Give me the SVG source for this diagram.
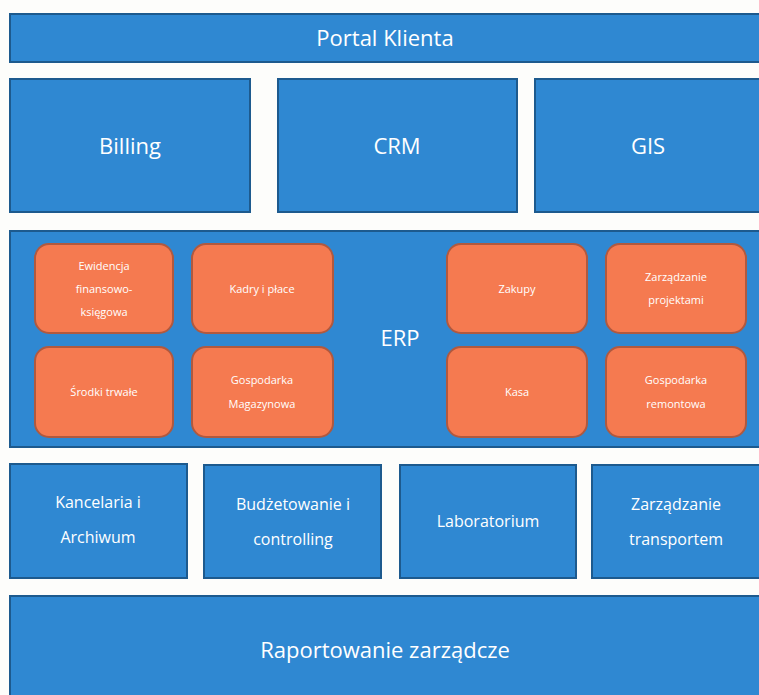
<svg xmlns="http://www.w3.org/2000/svg" width="759" height="695" viewBox="0 0 759 695">
<style>
.b{fill:#2f88d2;stroke:#1d5a8e;stroke-width:2}
.o{fill:#f57a50;stroke:#b0593f;stroke-width:2}
text{font-family:"Open Sans","Liberation Sans",sans-serif;fill:#ffffff;text-anchor:middle}
.t1{font-size:22px}
.t2{font-size:16px}
.t3{font-size:11px}
</style>
<rect width="759" height="695" fill="#fdfdfb"/>
<g id="portal"><rect class="b" x="10" y="14" width="752" height="48"/><text class="t1" x="385" y="46">Portal Klienta</text></g>
<g id="billing"><rect class="b" x="10" y="79" width="240" height="133"/><text class="t1" x="130" y="154">Billing</text></g>
<g id="crm"><rect class="b" x="278" y="79" width="239" height="133"/><text class="t1" x="397" y="154">CRM</text></g>
<g id="gis"><rect class="b" x="535" y="79" width="227" height="133"/><text class="t1" x="648" y="154">GIS</text></g>
<g id="erp"><rect class="b" x="10" y="231" width="752" height="216"/><text class="t1" x="400" y="346">ERP</text></g>
<g id="ewidencja"><rect class="o" x="35" y="244" width="138" height="89" rx="14"/><text class="t3"><tspan x="104" y="270">Ewidencja</tspan><tspan x="104" y="293">finansowo-</tspan><tspan x="104" y="316">księgowa</tspan></text></g>
<g id="kadry"><rect class="o" x="192" y="244" width="141" height="89" rx="14"/><text class="t3" x="262" y="293">Kadry i płace</text></g>
<g id="srodki"><rect class="o" x="35" y="347" width="138" height="90" rx="14"/><text class="t3" x="104" y="396">Środki trwałe</text></g>
<g id="gospodarka-mag"><rect class="o" x="192" y="347" width="141" height="90" rx="14"/><text class="t3"><tspan x="262" y="384">Gospodarka</tspan><tspan x="262" y="408">Magazynowa</tspan></text></g>
<g id="zakupy"><rect class="o" x="447" y="244" width="140" height="89" rx="14"/><text class="t3" x="517" y="293">Zakupy</text></g>
<g id="projekty"><rect class="o" x="606" y="244" width="140" height="89" rx="14"/><text class="t3"><tspan x="676" y="281">Zarządzanie</tspan><tspan x="676" y="304">projektami</tspan></text></g>
<g id="kasa"><rect class="o" x="447" y="347" width="140" height="90" rx="14"/><text class="t3" x="517" y="396">Kasa</text></g>
<g id="remontowa"><rect class="o" x="606" y="347" width="140" height="90" rx="14"/><text class="t3"><tspan x="676" y="384">Gospodarka</tspan><tspan x="676" y="408">remontowa</tspan></text></g>
<g id="kancelaria"><rect class="b" x="10" y="464" width="177" height="114"/><text class="t2"><tspan x="98" y="508">Kancelaria i</tspan><tspan x="98" y="543">Archiwum</tspan></text></g>
<g id="budzet"><rect class="b" x="204" y="465" width="177" height="113"/><text class="t2"><tspan x="293" y="510">Budżetowanie i</tspan><tspan x="293" y="545">controlling</tspan></text></g>
<g id="laboratorium"><rect class="b" x="400" y="465" width="176" height="113"/><text class="t2" x="488" y="527">Laboratorium</text></g>
<g id="transport"><rect class="b" x="592" y="465" width="170" height="113"/><text class="t2"><tspan x="676" y="510">Zarządzanie</tspan><tspan x="676" y="545">transportem</tspan></text></g>
<g id="raportowanie"><rect class="b" x="10" y="596" width="752" height="105"/><text class="t1" x="385" y="658">Raportowanie zarządcze</text></g>
<g id="connectors"/>
</svg>
